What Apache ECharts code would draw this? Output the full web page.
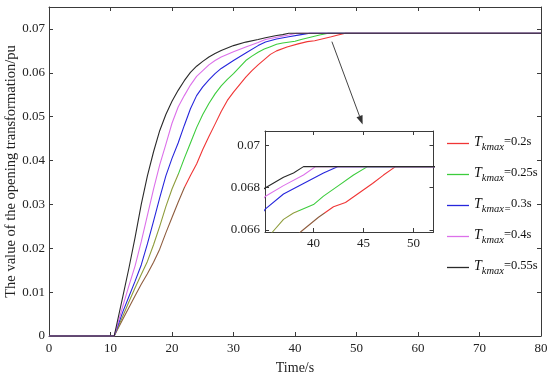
<!DOCTYPE html>
<html><head><meta charset="utf-8">
<script src="https://cdn.jsdelivr.net/npm/echarts@6/dist/echarts.min.js"></script>
<style>html,body{margin:0;padding:0;background:#fff}#c{width:550px;height:374px}</style>
</head><body><div id="c"></div>
<script>
// ---- data ----
const seriesNames = ['0.2s', '0.25s', '0.3s', '0.4s', '0.55s'];
const colors = ['#f03535', '#3ccc3c', '#2626dc', '#dc70ea', '#2a2a2a'];

const t_02 = [0, 10.6, 12, 13, 14, 15, 16, 17, 18, 19, 20, 21, 22, 23, 24, 25, 26, 27, 28, 29, 30, 31, 32, 33, 34, 35, 36, 37, 38.7, 40.5, 42, 43.2, 45.9, 47, 48.2, 80];
const v_02 = [0, 0, 0.0038, 0.0065, 0.0092, 0.0118, 0.0142, 0.0168, 0.0198, 0.0235, 0.0270, 0.0305, 0.0338, 0.0366, 0.0392, 0.0425, 0.0455, 0.0483, 0.0512, 0.0537, 0.0556, 0.0573, 0.0590, 0.0605, 0.0618, 0.0630, 0.0642, 0.0650, 0.0659, 0.0666, 0.0671, 0.0673, 0.0682, 0.0686, 0.069, 0.069];

const t_025 = [0, 10.6, 12, 13, 14, 15, 16, 17, 18, 19, 20, 21, 22, 23, 24, 25, 26, 27, 28, 29, 30, 32, 33, 34, 35, 35.9, 37, 38, 40, 41, 42.5, 44, 45.4, 80];
const v_025 = [0, 0, 0.0045, 0.0078, 0.0110, 0.0140, 0.0170, 0.0208, 0.0250, 0.0295, 0.0335, 0.0368, 0.0405, 0.0440, 0.0475, 0.0505, 0.0530, 0.0552, 0.0570, 0.0585, 0.0598, 0.0628, 0.0638, 0.0647, 0.0654, 0.0659, 0.0665, 0.0668, 0.0672, 0.0676, 0.0681, 0.0686, 0.069, 0.069];

const t_03 = [0, 10.6, 12, 13, 14, 15, 16, 17, 18, 19, 20, 21, 22, 23, 24, 25, 26, 27, 28, 30, 32, 34, 35.2, 37, 39, 41, 42.4, 80];
const v_03 = [0, 0, 0.0055, 0.0090, 0.0125, 0.0162, 0.0210, 0.0262, 0.0315, 0.0365, 0.0405, 0.0440, 0.0480, 0.0518, 0.0548, 0.0568, 0.0584, 0.0598, 0.0610, 0.0628, 0.0645, 0.0662, 0.0670, 0.0677, 0.0682, 0.0687, 0.069, 0.069];

const t_04 = [0, 10.6, 12, 13, 14, 15, 16, 17, 18, 19, 20, 21, 22, 23, 24, 25, 26, 27, 28, 30, 32, 34, 35.2, 37, 39, 40.2, 80];
const v_04 = [0, 0, 0.0068, 0.0115, 0.0160, 0.0215, 0.0275, 0.0335, 0.0390, 0.0437, 0.0485, 0.0522, 0.0548, 0.0572, 0.0592, 0.0605, 0.0618, 0.0628, 0.0636, 0.0648, 0.0659, 0.0669, 0.0676, 0.0681, 0.0686, 0.069, 0.069];

const t_055 = [0, 10.6, 12, 13, 14, 15, 16, 17, 18, 19, 20, 21, 22, 23, 24, 25, 26, 27, 28, 30, 32, 34, 35.2, 37, 38, 39, 80];
const v_055 = [0, 0, 0.0090, 0.0155, 0.0225, 0.0300, 0.0365, 0.0420, 0.0468, 0.0505, 0.0535, 0.0560, 0.0582, 0.0601, 0.0615, 0.0626, 0.0636, 0.0644, 0.0651, 0.0662, 0.0670, 0.0676, 0.0680, 0.0685, 0.0687, 0.069, 0.069];

const mainXTicks = [0, 80, 10];
const mainYTicks = [0, 0.075, 0.01];
const insetXRange = [35.15, 52];
const insetYRange = [0.0659, 0.07069];
const insetXLabels = [40, 45, 50];
const insetYLabels = [0.066, 0.068, 0.07];
const arrowFrom = [46.0, 0.0671];
const arrowTo = [51.0, 0.0482];

const times = [t_02, t_025, t_03, t_04, t_055];
const values = [v_02, v_025, v_03, v_04, v_055];
const pairs = times.map((t, i) => t.map((x, j) => [x, values[i][j]]));

// ---- chart ----
const font = 'Liberation Serif, Times New Roman, serif';
const axisCol = '#3a3a3a';
const chart = echarts.init(document.getElementById('c'), null, {renderer: 'canvas'});

function frameAxis(extra) {
  return Object.assign({
    axisLine: {show: true, onZero: false, lineStyle: {color: axisCol, width: 1}},
    axisTick: {show: true, inside: true, length: 4, lineStyle: {color: axisCol}},
    splitLine: {show: false},
    axisLabel: {show: false}
  }, extra);
}

const series = [];
[0, 2].forEach(ax => {
  pairs.forEach((d, i) => {
    series.push({
      name: (ax ? 'inset ' : '') + seriesNames[i], type: 'line', data: d, xAxisIndex: ax, yAxisIndex: ax,
      symbol: 'none', color: colors[i], lineStyle: {width: 1.1},
      animation: false, clip: true, z: 2 + i
    });
  });
});

const legendRich = {
  a: {fontFamily: font, fontStyle: 'italic', fontSize: 14, color: '#111', verticalAlign: 'top', height: 16},
  b: {fontFamily: font, fontStyle: 'italic', fontSize: 10.5, color: '#111', verticalAlign: 'top', padding: [8, 0, 0, 0]},
  c: {fontFamily: font, fontSize: 12.5, color: '#111', verticalAlign: 'top', padding: [1, 0, 0, 0]}
};

const option = {
  backgroundColor: '#fff',
  animation: false,
  grid: [
    {left: 49, right: 9, top: 7, bottom: 38, containLabel: false, outerBoundsMode: 'none'},
    {left: 265, top: 131, width: 168.5, height: 101, containLabel: false, outerBoundsMode: 'none'}
  ],
  xAxis: [
    frameAxis({type: 'value', gridIndex: 0, position: 'bottom', min: mainXTicks[0], max: mainXTicks[1], interval: mainXTicks[2],
      axisLabel: {show: true, fontFamily: font, fontSize: 13, color: '#222', margin: 6},
      name: 'Time/s', nameLocation: 'middle', nameGap: 25, nameMoveOverlap: false,
      nameTextStyle: {fontFamily: font, fontSize: 14, color: '#222'}}),
    frameAxis({type: 'value', gridIndex: 0, position: 'top', min: mainXTicks[0], max: mainXTicks[1], interval: mainXTicks[2]}),
    frameAxis({type: 'value', gridIndex: 1, position: 'bottom', min: insetXRange[0], max: insetXRange[1],
      axisTick: {show: true, inside: true, length: 4, lineStyle: {color: axisCol}, customValues: insetXLabels},
      axisLabel: {show: true, fontFamily: font, fontSize: 13, color: '#222', margin: 5, customValues: insetXLabels}}),
    frameAxis({type: 'value', gridIndex: 1, position: 'top', min: insetXRange[0], max: insetXRange[1],
      axisTick: {show: true, inside: true, length: 4, lineStyle: {color: axisCol}, customValues: insetXLabels}})
  ],
  yAxis: [
    frameAxis({type: 'value', gridIndex: 0, position: 'left', min: mainYTicks[0], max: mainYTicks[1], interval: mainYTicks[2],
      axisLabel: {show: true, fontFamily: font, fontSize: 13, color: '#222', margin: 4, showMaxLabel: false,
        formatter: v => v === 0 ? '0' : v.toFixed(2)},
      name: 'The value of the opening transformation/pu', nameLocation: 'middle', nameGap: 30, nameMoveOverlap: false,
      nameTextStyle: {fontFamily: font, fontSize: 14.5, color: '#222'}}),
    frameAxis({type: 'value', gridIndex: 0, position: 'right', min: mainYTicks[0], max: mainYTicks[1], interval: mainYTicks[2]}),
    frameAxis({type: 'value', gridIndex: 1, position: 'left', min: insetYRange[0], max: insetYRange[1],
      axisTick: {show: true, inside: true, length: 4, lineStyle: {color: axisCol}, customValues: insetYLabels},
      axisLabel: {show: true, fontFamily: font, fontSize: 13, color: '#222', margin: 5, customValues: insetYLabels,
        formatter: v => String(+v.toFixed(3))}}),
    frameAxis({type: 'value', gridIndex: 1, position: 'right', min: insetYRange[0], max: insetYRange[1],
      axisTick: {show: true, inside: true, length: 4, lineStyle: {color: axisCol}, customValues: insetYLabels}})
  ],
  visualMap: [
    {type: 'piecewise', show: false, seriesIndex: 0, dimension: 1, pieces: [{min: -1, max: 0.034, color: '#8e5c3e'}, {min: 0.034, max: 1, color: colors[0]}]},
    {type: 'piecewise', show: false, seriesIndex: 1, dimension: 1, pieces: [{min: -1, max: 0.037, color: '#8e9c3c'}, {min: 0.037, max: 1, color: colors[1]}]},
    {type: 'piecewise', show: false, seriesIndex: 5, dimension: 1, pieces: [{min: -1, max: 0.0668, color: '#8e5c3e'}, {min: 0.0668, max: 1, color: colors[0]}]},
    {type: 'piecewise', show: false, seriesIndex: 6, dimension: 1, pieces: [{min: -1, max: 0.0669, color: '#8e9c3c'}, {min: 0.0669, max: 1, color: colors[1]}]}
  ],
  legend: {
    orient: 'vertical', left: 442, top: 130, itemWidth: 22, itemHeight: 1.3, itemGap: 13,
    icon: 'rect', selectedMode: false,
    data: seriesNames.map((n, i) => ({name: n, itemStyle: {color: colors[i], borderWidth: 0}})),
    formatter: n => n === '0.3s' ? '{a|T}{b|kmax=}{c|' + n + '}' : '{a|T}{b|kmax}{c|=' + n + '}',
    textStyle: {rich: legendRich}
  },
  series: series
};
chart.setOption(option);

// arrow annotation placed through the main axes' scale
const p0 = chart.convertToPixel({xAxisIndex: 0, yAxisIndex: 0}, arrowFrom);
const p1 = chart.convertToPixel({xAxisIndex: 0, yAxisIndex: 0}, arrowTo);
const ang = Math.atan2(p1[1] - p0[1], p1[0] - p0[0]);
const L = 9, W = 3.2;
const bx = p1[0] - L * Math.cos(ang), by = p1[1] - L * Math.sin(ang);
const nx = -Math.sin(ang) * W, ny = Math.cos(ang) * W;
chart.setOption({
  graphic: [
    {type: 'line', shape: {x1: p0[0], y1: p0[1], x2: bx, y2: by}, style: {stroke: '#444', lineWidth: 1}, z: 20},
    {type: 'polygon', shape: {points: [[p1[0], p1[1]], [bx + nx, by + ny], [bx - nx, by - ny]]}, style: {fill: '#333'}, z: 20}
  ]
});
</script>
</body></html>
